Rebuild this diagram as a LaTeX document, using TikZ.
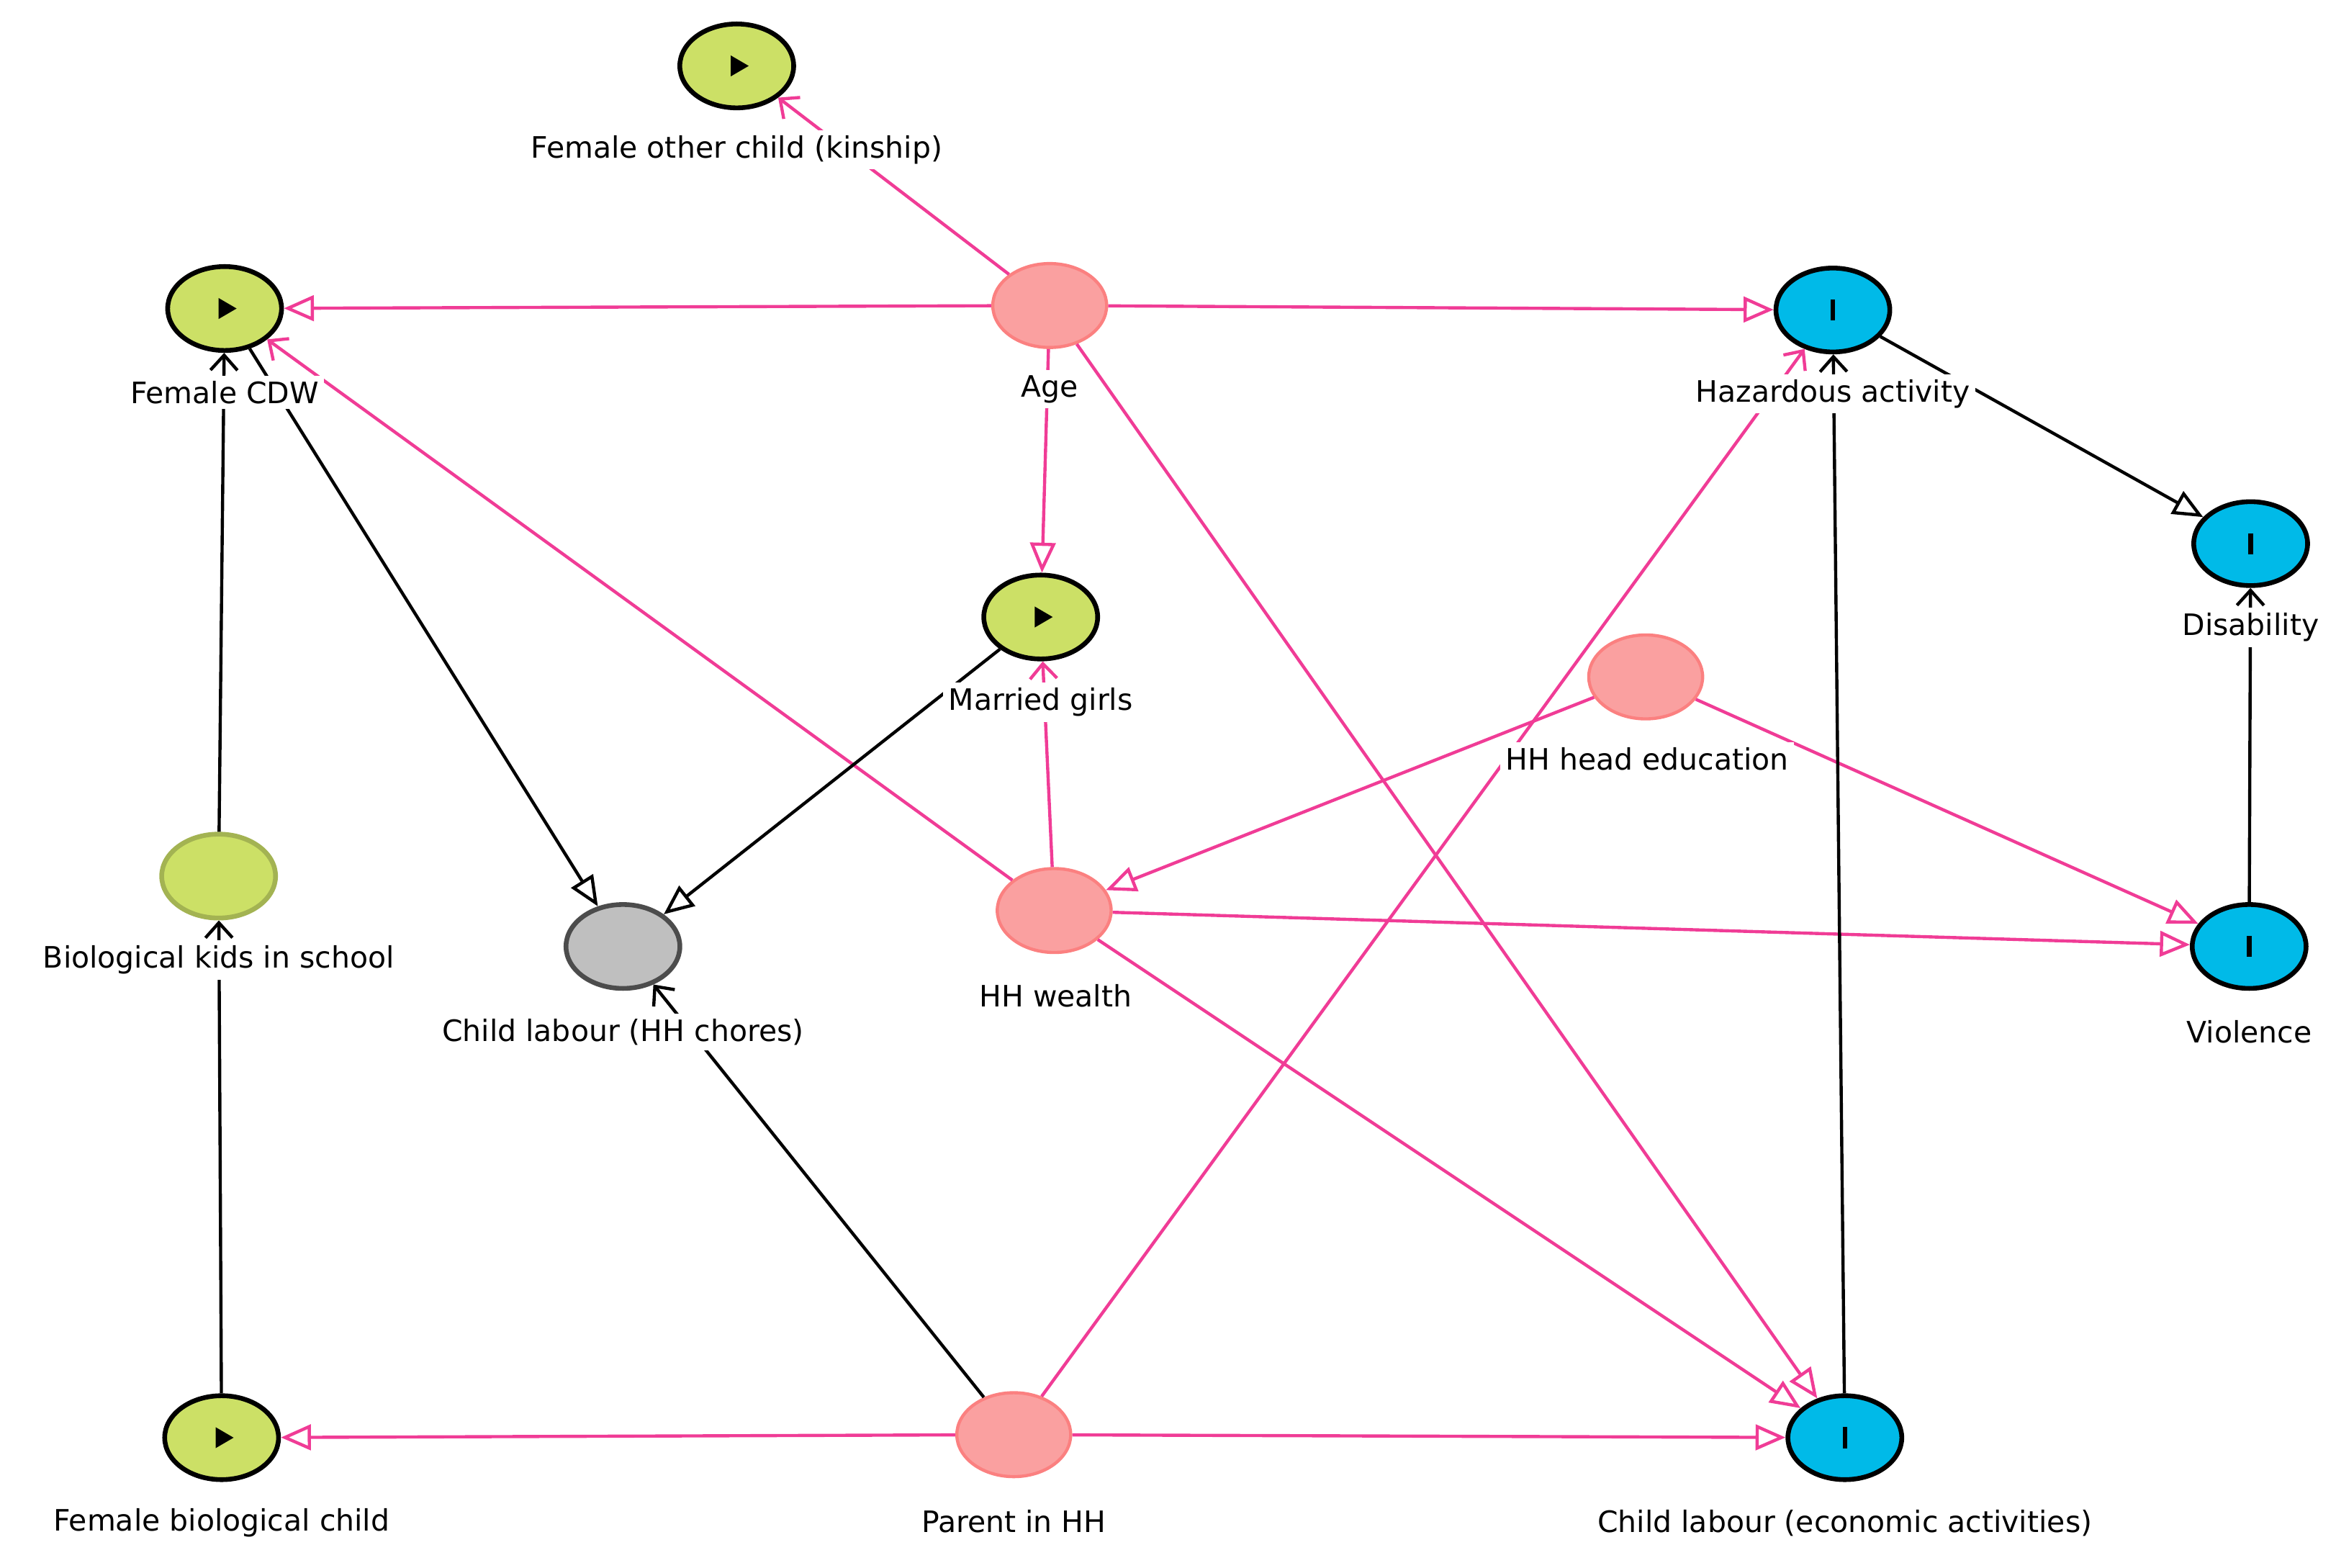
\documentclass[tikz,border=0pt]{standalone}
\usepackage{fontspec}
\setmainfont{DejaVu Sans}
\usetikzlibrary{arrows.meta,shapes.geometric}
\definecolor{expo}{RGB}{204,224,102}
\definecolor{cov}{RGB}{250,160,160}
\definecolor{outc}{RGB}{0,186,232}
\definecolor{edgepink}{RGB}{240,60,150}

\tikzstyle{var} = [ellipse, minimum width=0.76cm, minimum height=0.56cm, inner sep=0pt]
\tikzstyle{exposure} = [var, draw=black, line width=0.9pt, fill=expo]
\tikzstyle{covariate} = [var, draw=cov!80!red, line width=0.6pt, fill=cov]
\tikzstyle{outcome} = [var, draw=black, line width=0.9pt, fill=outc]
\tikzstyle{label} = [fill=white, inner sep=1pt, font=\fontsize{5.6}{6}\selectfont]
\tikzstyle{big} = [-{Triangle[open,length=2mm,width=1.7mm]}]
\tikzstyle{small} = [-{Straight Barb[length=1mm,width=1.8mm]}]
\tikzstyle{bias} = [draw=edgepink, line width=0.6pt]
\tikzstyle{causal} = [draw=black, line width=0.6pt]
\newcommand{\playmark}[1]{\fill (#1)+(-4,-7)--+(8,0)--+(-4,7)--cycle;}
\newcommand{\barmark}[1]{\fill (#1)+(-1.5,-7) rectangle +(1.5,7);}

\begin{document}
\begin{tikzpicture}[x=0.01cm, y=-0.01cm]
    \useasboundingbox (0,0) rectangle (1560,1047);
    % Place nodes
    \node [exposure] (kin) at (492,44) {};
    \node [exposure] (cdw) at (150,206) {};
    \node [covariate] (age) at (701,204) {};
    \node [outcome] (haz) at (1224,207) {};
    \node [outcome] (dis) at (1503,363) {};
    \node [exposure] (mar) at (695,412) {};
    \node [covariate] (edu) at (1099,452) {};
    \node [var, draw=expo!80!black, line width=0.9pt, fill=expo] (school) at (146,585) {};
    \node [var, draw=black!70, line width=0.9pt, fill=black!25] (chores) at (416,632) {};
    \node [covariate] (wealth) at (704,608) {};
    \node [outcome] (vio) at (1502,632) {};
    \node [exposure] (bio) at (148,960) {};
    \node [covariate] (par) at (677,958) {};
    \node [outcome] (econ) at (1232,960) {};
    \foreach \n in {kin,cdw,mar,bio} {\playmark{\n}}
    \foreach \n in {haz,dis,vio,econ} {\barmark{\n}}

    % Edges
    \draw [bias, small] (age) -- (kin);
    \draw [bias, big] (age) -- (cdw);
    \draw [bias, big] (age) -- (haz);
    \draw [bias, big] (age) -- (mar);
    \draw [bias, big] (age) -- (econ);
    \draw [bias, small] (wealth) -- (cdw);
    \draw [bias, small] (wealth) -- (mar);
    \draw [bias, big] (wealth) -- (vio);
    \draw [bias, big] (wealth) -- (econ);
    \draw [bias, big] (edu) -- (wealth);
    \draw [bias, big] (edu) -- (vio);
    \draw [bias, big] (par) -- (bio);
    \draw [bias, big] (par) -- (econ);
    \draw [bias, small] (par) -- (haz);
    \draw [causal, big] (cdw) -- (chores);
    \draw [causal, big] (mar) -- (chores);
    \draw [causal, small] (par) -- (chores);
    \draw [causal, big] (haz) -- (dis);
    \draw [causal, small] (econ) -- (haz);
    \draw [causal, small] (vio) -- (dis);
    \draw [causal, small] (school) -- (cdw);
    \draw [causal, small] (bio) -- (school);

    % Labels
    \node [label] at (492,100) {Female other child (kinship)};
    \node [label] at (150,262) {Female CDW};
    \node [label] at (701,260) {Age};
    \node [label] at (1224,263) {Hazardous activity};
    \node [label] at (1503,419) {Disability};
    \node [label] at (695,469) {Married girls};
    \node [label] at (1100,507) {HH head education};
    \node [label] at (146,641) {Biological kids in school};
    \node [label] at (416,689) {Child labour (HH chores)};
    \node [label] at (705,665) {HH wealth};
    \node [label] at (1502,689) {Violence};
    \node [label] at (148,1017) {Female biological child};
    \node [label] at (677,1016) {Parent in HH};
    \node [label] at (1232,1017) {Child labour (economic activities)};
\end{tikzpicture}
\end{document}
